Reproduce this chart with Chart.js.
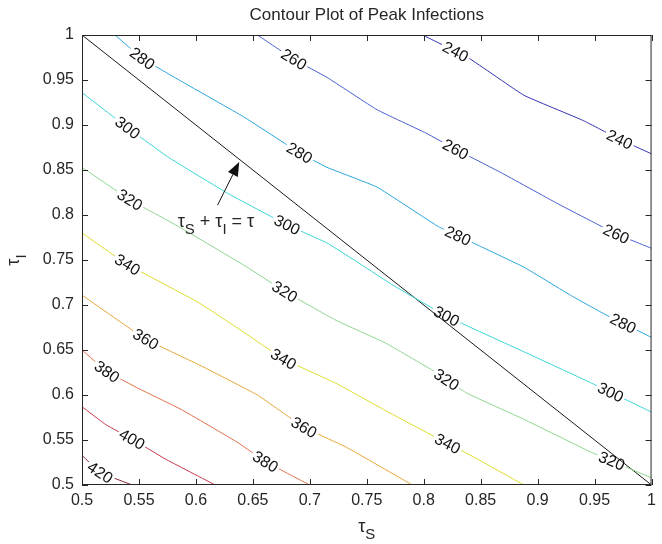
<!DOCTYPE html>
<html>
<head>
<meta charset="utf-8">
<script src="https://cdn.jsdelivr.net/npm/chart.js@4.4.0/dist/chart.umd.min.js"></script>
<style>
    html, body { margin: 0; padding: 0; background: #fff; }
    canvas { display: block; }
</style>
</head>
<body>
<canvas id="contourChart" width="662" height="544"></canvas>
<script>
// contour levels and the traced lines, [tauS, tauI]
const levels = [240, 260, 280, 300, 320, 340, 360, 380, 400, 420];

const c240 = [[0.799, 1.0], [0.84, 0.974], [0.888, 0.933], [0.94, 0.905], [0.972, 0.884], [1.0, 0.868]];
const c260 = [[0.654, 1.0], [0.686, 0.973], [0.715, 0.953], [0.759, 0.917], [0.802, 0.891], [0.828, 0.873], [0.868, 0.847], [0.917, 0.813], [0.969, 0.779], [1.0, 0.763]];
const c280 = [[0.529, 1.0], [0.553, 0.974], [0.588, 0.948], [0.642, 0.909], [0.691, 0.869], [0.715, 0.853], [0.759, 0.831], [0.813, 0.787], [0.85, 0.765], [0.888, 0.742], [0.93, 0.71], [0.96, 0.689], [1.0, 0.664]];
const c300 = [[0.5, 0.936], [0.54, 0.897], [0.576, 0.864], [0.628, 0.824], [0.68, 0.789], [0.715, 0.769], [0.745, 0.745], [0.773, 0.722], [0.821, 0.687], [0.888, 0.648], [0.946, 0.614], [1.0, 0.581]];
const c320 = [[0.5, 0.853], [0.542, 0.817], [0.585, 0.787], [0.645, 0.742], [0.678, 0.715], [0.723, 0.683], [0.766, 0.658], [0.807, 0.628], [0.838, 0.602], [0.888, 0.573], [0.946, 0.537], [1.0, 0.508]];
const c340 = [[0.5, 0.78], [0.54, 0.745], [0.602, 0.703], [0.637, 0.674], [0.677, 0.64], [0.723, 0.613], [0.766, 0.583], [0.821, 0.546], [0.844, 0.531], [0.888, 0.5]];
const c360 = [[0.5, 0.711], [0.556, 0.662], [0.602, 0.634], [0.654, 0.6], [0.695, 0.564], [0.732, 0.542], [0.79, 0.5]];
const c380 = [[0.5, 0.65], [0.522, 0.626], [0.55, 0.607], [0.587, 0.584], [0.637, 0.547], [0.661, 0.526], [0.7, 0.5]];
const c400 = [[0.5, 0.587], [0.521, 0.567], [0.544, 0.551], [0.573, 0.529], [0.617, 0.5]];
const c420 = [[0.5, 0.533], [0.516, 0.514], [0.544, 0.5]];
const contourLines = [c240, c260, c280, c300, c320, c340, c360, c380, c400, c420];

// where the inline labels sit (tauS value along each line)
const lab240 = [0.828, 0.972];
const lab260 = [0.686, 0.828, 0.969];
const lab280 = [0.553, 0.691, 0.83, 0.975];
const lab300 = [0.54, 0.68, 0.82, 0.964];
const lab320 = [0.542, 0.678, 0.82, 0.965];
const lab340 = [0.54, 0.677, 0.821];
const lab360 = [0.556, 0.695];
const lab380 = [0.522, 0.661];
const lab400 = [0.544];
const lab420 = [0.516];
const labelSpots = [lab240, lab260, lab280, lab300, lab320, lab340, lab360, lab380, lab400, lab420];

const diagonal = [[0.5, 1.0], [1.0, 0.5]];

const tickValues = [0.5, 0.55, 0.6, 0.65, 0.7, 0.75, 0.8, 0.85, 0.9, 0.95, 1];
const tickLabels = ["0.5", "0.55", "0.6", "0.65", "0.7", "0.75", "0.8", "0.85", "0.9", "0.95", "1"];

const levelColors = ["#3434b0", "#4a5ed0", "#2aa6dc", "#3ed4d8", "#8ed690", "#dcdc2c", "#e6a63a", "#e2704a", "#c63a4c", "#8c2a3a"];

const FONT = '"Liberation Sans", Arial, sans-serif';
const TEXT_COLOR = "#262626";
const LABEL_SIZE = 16;

function pointOnLine(line, x) {
    x = Math.max(line[0][0], Math.min(line[line.length - 1][0], x));
    for (let k = 0; k < line.length - 1; k++) {
        const a = line[k], b = line[k + 1];
        if (x >= a[0] && x <= b[0]) {
            const t = (x - a[0]) / (b[0] - a[0]);
            return [x, a[1] + t * (b[1] - a[1])];
        }
    }
    return line[line.length - 1];
}

function labelBoxes(chart, i) {
    const xs = chart.scales.x, ys = chart.scales.y;
    const line = contourLines[i];
    const ctx = chart.ctx;
    ctx.font = LABEL_SIZE + "px " + FONT;
    const w = ctx.measureText(String(levels[i])).width + 4;
    return labelSpots[i].map(lx => {
        const p = pointOnLine(line, lx);
        const p1 = pointOnLine(line, lx - 0.015);
        const p2 = pointOnLine(line, lx + 0.015);
        const dx = xs.getPixelForValue(p2[0]) - xs.getPixelForValue(p1[0]);
        const dy = ys.getPixelForValue(p2[1]) - ys.getPixelForValue(p1[1]);
        return {
            px: xs.getPixelForValue(p[0]),
            py: ys.getPixelForValue(p[1]),
            angle: Math.atan2(dy, dx),
            w: w,
            h: LABEL_SIZE
        };
    });
}

// text with subscripts, parts = [[text, isSub], ...]
function drawRich(ctx, x, y, parts, size, subSize, align) {
    let total = 0;
    parts.forEach(p => {
        ctx.font = (p[1] ? subSize : size) + "px " + FONT;
        total += ctx.measureText(p[0]).width;
    });
    let cx = align === "center" ? x - total / 2 : x;
    ctx.textAlign = "left";
    ctx.textBaseline = "alphabetic";
    parts.forEach(p => {
        ctx.font = (p[1] ? subSize : size) + "px " + FONT;
        ctx.fillText(p[0], cx, p[1] ? y + size * 0.4 : y);
        cx += ctx.measureText(p[0]).width;
    });
}

const annotation = {
    textAt: [0.584, 0.787],
    arrowFrom: [0.619, 0.811],
    arrowTo: [0.638, 0.859]
};

const contourPlugin = {
    id: "contourDecor",
    beforeDatasetDraw(chart, args) {
        const i = args.index;
        if (i >= levels.length) return;
        const ctx = chart.ctx;
        ctx.save();
        ctx.beginPath();
        ctx.rect(0, 0, chart.width, chart.height);
        labelBoxes(chart, i).forEach(b => {
            const c = Math.cos(b.angle), s = Math.sin(b.angle);
            const hw = b.w / 2, hh = b.h / 2;
            const corners = [[-hw, -hh], [hw, -hh], [hw, hh], [-hw, hh]];
            corners.forEach((q, k) => {
                const X = b.px + q[0] * c - q[1] * s;
                const Y = b.py + q[0] * s + q[1] * c;
                if (k === 0) ctx.moveTo(X, Y); else ctx.lineTo(X, Y);
            });
            ctx.closePath();
        });
        ctx.clip("evenodd");
    },
    afterDatasetDraw(chart, args) {
        if (args.index < levels.length) chart.ctx.restore();
    },
    afterDatasetsDraw(chart) {
        const ctx = chart.ctx;
        levels.forEach((lv, i) => {
            labelBoxes(chart, i).forEach(b => {
                ctx.save();
                ctx.translate(b.px, b.py);
                ctx.rotate(b.angle);
                ctx.font = LABEL_SIZE + "px " + FONT;
                ctx.fillStyle = "#111";
                ctx.textAlign = "center";
                ctx.textBaseline = "middle";
                ctx.fillText(String(lv), 0, 1);
                ctx.restore();
            });
        });
    },
    afterDraw(chart) {
        const ctx = chart.ctx;
        const area = chart.chartArea;
        const xs = chart.scales.x, ys = chart.scales.y;
        ctx.save();

        // axes box with inward ticks on all sides
        ctx.strokeStyle = "#262626";
        ctx.lineWidth = 1;
        ctx.strokeRect(area.left + 0.5, area.top + 0.5, area.right - area.left - 1, area.bottom - area.top - 1);
        ctx.beginPath();
        tickValues.forEach(v => {
            const px = Math.round(xs.getPixelForValue(v)) + 0.5;
            ctx.moveTo(px, area.bottom);
            ctx.lineTo(px, area.bottom - 6);
            ctx.moveTo(px, area.top);
            ctx.lineTo(px, area.top + 6);
            const py = Math.round(ys.getPixelForValue(v)) + 0.5;
            ctx.moveTo(area.left, py);
            ctx.lineTo(area.left + 6, py);
            ctx.moveTo(area.right, py);
            ctx.lineTo(area.right - 6, py);
        });
        ctx.stroke();

        // title
        ctx.fillStyle = TEXT_COLOR;
        ctx.font = "17px " + FONT;
        ctx.textAlign = "center";
        ctx.textBaseline = "middle";
        ctx.fillText("Contour Plot of Peak Infections", (area.left + area.right) / 2, 15);

        // axis titles
        drawRich(ctx, (area.left + area.right) / 2, 532, [["τ", false], ["S", true]], 18, 15, "center");
        ctx.save();
        ctx.translate(19, (area.top + area.bottom) / 2);
        ctx.rotate(-Math.PI / 2);
        drawRich(ctx, 0, 0, [["τ", false], ["I", true]], 18, 15, "center");
        ctx.restore();

        // annotation with arrow
        const tx = xs.getPixelForValue(annotation.textAt[0]);
        const ty = ys.getPixelForValue(annotation.textAt[1]);
        drawRich(ctx, tx, ty, [["τ", false], ["S", true], [" + τ", false], ["I", true], [" = τ", false]], 18, 15, "left");

        const ax = xs.getPixelForValue(annotation.arrowFrom[0]);
        const ay = ys.getPixelForValue(annotation.arrowFrom[1]);
        const bx = xs.getPixelForValue(annotation.arrowTo[0]);
        const by = ys.getPixelForValue(annotation.arrowTo[1]);
        const ang = Math.atan2(by - ay, bx - ax);
        const headLen = 14, headW = 5.5;
        const hx = bx - headLen * Math.cos(ang), hy = by - headLen * Math.sin(ang);
        ctx.strokeStyle = "#111";
        ctx.beginPath();
        ctx.moveTo(ax, ay);
        ctx.lineTo(hx, hy);
        ctx.stroke();
        ctx.fillStyle = "#111";
        ctx.beginPath();
        ctx.moveTo(bx, by);
        ctx.lineTo(hx - headW * Math.sin(ang), hy + headW * Math.cos(ang));
        ctx.lineTo(hx + headW * Math.sin(ang), hy - headW * Math.cos(ang));
        ctx.closePath();
        ctx.fill();

        ctx.restore();
    }
};

const datasets = contourLines.map((line, i) => ({
    label: String(levels[i]),
    data: line.map(p => ({ x: p[0], y: p[1] })),
    showLine: true,
    borderColor: levelColors[i],
    borderWidth: 1,
    pointRadius: 0,
    tension: 0.1
}));
datasets.push({
    label: "tauS + tauI = tau",
    data: diagonal.map(p => ({ x: p[0], y: p[1] })),
    showLine: true,
    borderColor: "#1a1a1a",
    borderWidth: 1,
    pointRadius: 0
});

function axisOptions(isX) {
    return {
        type: "linear",
        min: 0.5,
        max: 1,
        afterBuildTicks: scale => {
            scale.ticks = tickValues.map(v => ({ value: v }));
        },
        afterFit: scale => {
            if (isX) scale.height = 59;
            else scale.width = 82;
        },
        grid: { display: false, drawTicks: false },
        border: { display: false },
        ticks: {
            callback: (value, index) => tickLabels[index],
            color: TEXT_COLOR,
            font: { family: FONT, size: 16 },
            padding: isX ? 6 : 8,
            maxRotation: 0,
            autoSkip: false
        }
    };
}

new Chart(document.getElementById("contourChart"), {
    type: "scatter",
    data: { datasets: datasets },
    options: {
        responsive: false,
        animation: false,
        devicePixelRatio: 1,
        layout: { padding: { top: 35, right: 2, left: 0, bottom: 0 } },
        plugins: {
            legend: { display: false },
            tooltip: { enabled: false }
        },
        scales: {
            x: axisOptions(true),
            y: axisOptions(false)
        }
    },
    plugins: [contourPlugin]
});
</script>
</body>
</html>
